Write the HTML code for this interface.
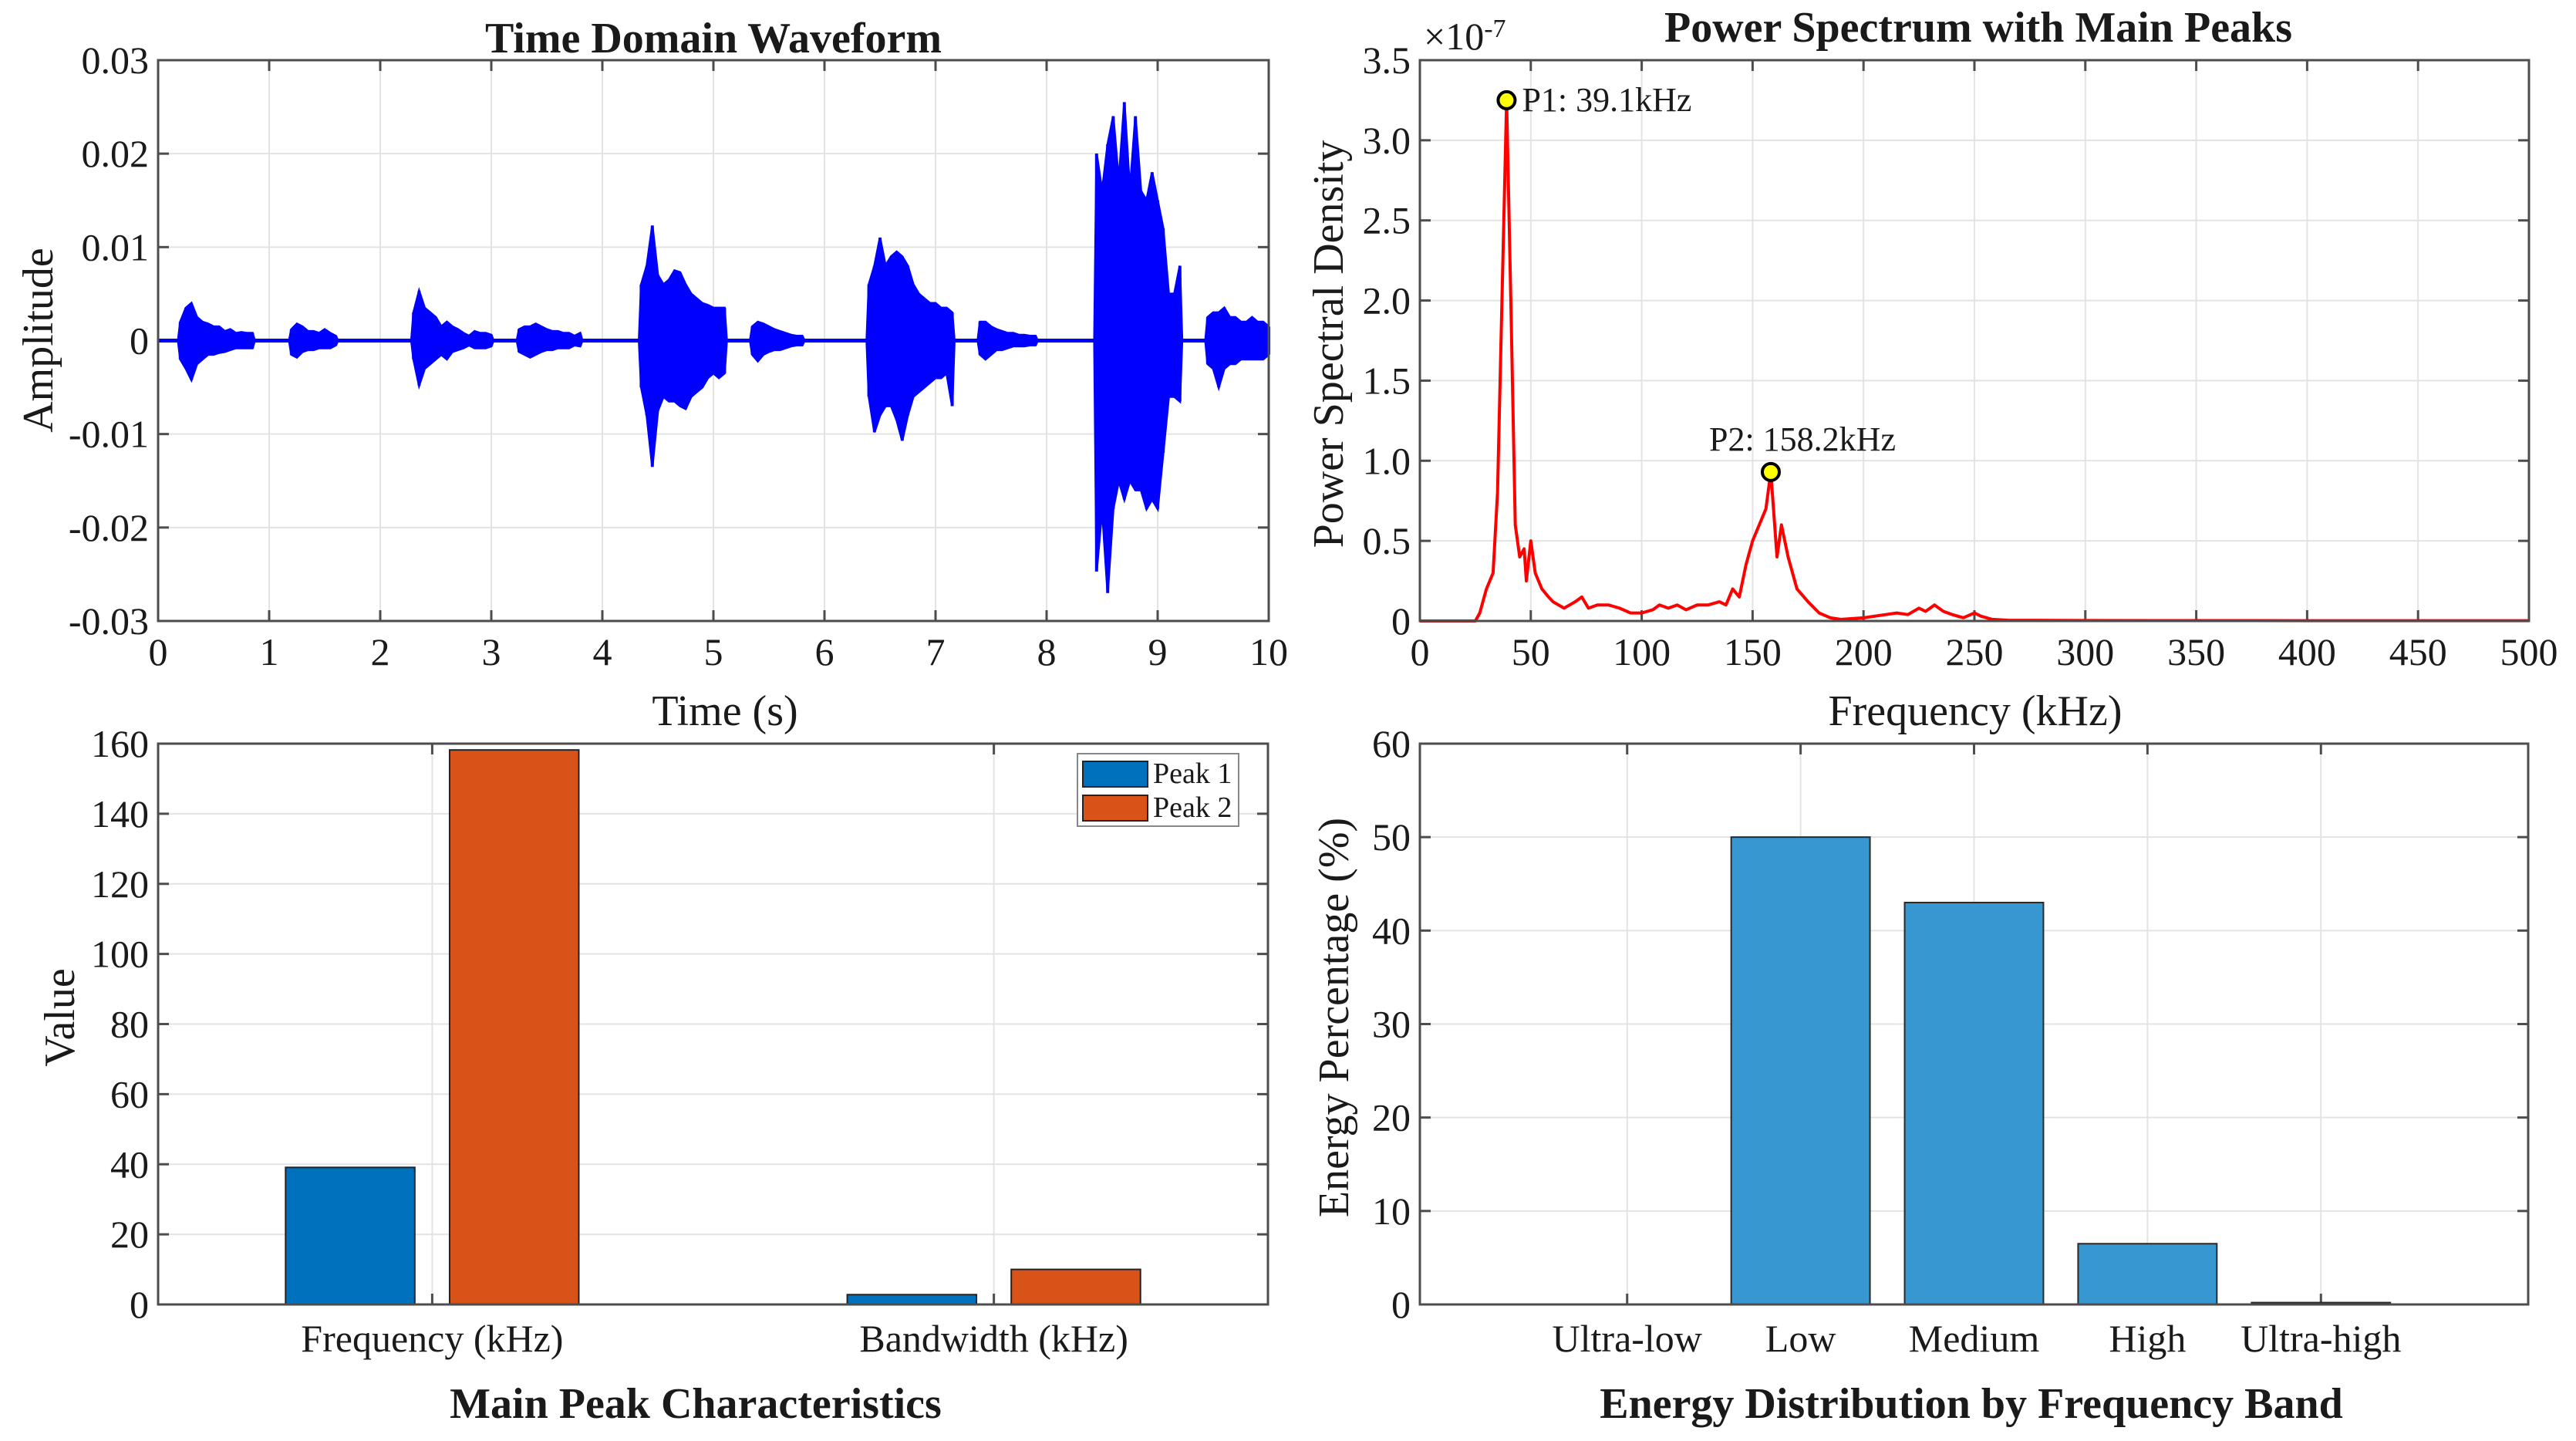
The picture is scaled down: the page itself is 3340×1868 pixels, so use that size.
<!DOCTYPE html>
<html><head><meta charset="utf-8"><style>
html,body{margin:0;padding:0;background:#fff;}
svg{display:block;font-family:"Liberation Serif","Times New Roman",serif;}
</style></head><body>
<svg id="fig" width="3340" height="1868" viewBox="0 0 3340 1868" xmlns="http://www.w3.org/2000/svg">
<rect x="0" y="0" width="3340" height="1868" fill="#fff"/>
<g id="root"></g>
</svg>
<script>
// ---------- Waveform data: bursts sampled every 0.05 s (amplitude units 1e-3) ----------
const burstStarts = [0.20, 1.20, 2.30, 3.25, 4.35, 5.35, 6.40, 7.40, 8.45, 9.45];
const burstUpper = [
  [2.0,3.5,4.0,2.5,2.0,1.8,1.5,1.5,1.0,1.2,0.8,0.9,0.8,0.8],
  [1.2,1.8,1.5,1.0,1.0,0.8,1.2,0.8,0.5],
  [3.0,5.3,3.5,3.0,2.5,1.5,2.0,1.5,1.2,0.8,0.5,1.0,0.8,0.8,0.6],
  [1.2,1.5,1.5,1.8,1.5,1.2,1.0,1.0,0.8,0.8,0.5,0.8],
  [6,8,12.3,7,6,6.5,7.5,7.3,6,5,4.5,4,3.8,3.5,3.5,3.5],
  [1.5,2.0,1.8,1.5,1.2,1.0,0.8,0.6,0.5,0.5],
  [6,8,11,8,9,9.5,9,8,6,5,4.5,4,4,3.5,3.5,3],
  [2.0,2.0,1.5,1.2,1.0,0.8,0.8,0.6,0.6,0.5,0.5],
  [20,16,21,24,17,25.5,16,24,16,15,18,15,12,5,5,8],
  [2.5,3,3,3.5,2.5,2.5,2,2,2.5,2,2,1.5]
];
const burstLower = [
  [-2.0,-3.0,-4.2,-2.5,-2.0,-1.5,-1.5,-1.3,-1.2,-1.0,-0.8,-0.8,-0.8,-0.8],
  [-1.5,-1.8,-1.2,-1.0,-1.0,-0.8,-0.8,-0.8,-0.5],
  [-2.0,-4.8,-3.0,-2.5,-2.0,-1.5,-2.0,-1.2,-1.0,-0.8,-0.5,-0.8,-0.8,-0.8,-0.6],
  [-1.2,-1.5,-1.8,-1.5,-1.2,-1.0,-1.0,-0.8,-0.8,-0.8,-0.5,-0.6],
  [-5,-8,-13.5,-7.5,-6,-6.5,-6.5,-7,-7.3,-6,-5.5,-5,-4,-3.5,-4,-3.5],
  [-1.5,-2.2,-1.5,-1.2,-1.0,-1.0,-0.8,-0.6,-0.5,-0.5],
  [-6,-9.8,-8,-7,-7,-8.5,-10.7,-8,-6,-5.5,-5,-4.5,-4,-4,-3.5,-7],
  [-1.5,-2.0,-1.5,-1.0,-1.0,-0.8,-0.6,-0.6,-0.6,-0.5,-0.5],
  [-24.7,-18,-27,-18,-15,-17,-15,-16,-16,-18,-17,-18,-12,-6,-6,-6.5],
  [-2.5,-3,-5,-3,-2.5,-2.5,-2,-2,-2,-2,-2,-1.5]
];
const sampleStep = 0.05;
const waveXTicks = [0,1,2,3,4,5,6,7,8,9,10];
const waveYTicks = [-0.03,-0.02,-0.01,0,0.01,0.02,0.03];
const waveYLabels = ["-0.03","-0.02","-0.01","0","0.01","0.02","0.03"];

// ---------- Power spectrum data (units 1e-7) ----------
const psdFreq = [0,10,20,25,27,30,33,35,37,39.1,41,43,45,47,48,50,52,55,58,60,65,70,73,76,80,85,90,95,100,105,108,112,116,120,125,130,135,138,141,144,147,150,153,156,158.2,161,163,166,170,175,180,185,190,200,210,215,220,225,228,232,236,240,245,250,253,258,265,300,400,500];
const psdValue = [0,0,0,0,0.05,0.2,0.3,0.8,2.0,3.25,2.0,0.6,0.4,0.45,0.25,0.5,0.3,0.2,0.15,0.12,0.08,0.12,0.15,0.08,0.1,0.1,0.08,0.05,0.05,0.07,0.1,0.08,0.1,0.07,0.1,0.1,0.12,0.1,0.2,0.15,0.35,0.5,0.6,0.7,0.93,0.4,0.6,0.4,0.2,0.12,0.05,0.02,0.01,0.02,0.04,0.05,0.04,0.08,0.06,0.1,0.06,0.04,0.02,0.05,0.03,0.01,0.005,0.003,0.002,0.002];
const psdXTicks = [0,50,100,150,200,250,300,350,400,450,500];
const psdYTicks = [0,0.5,1.0,1.5,2.0,2.5,3.0,3.5];
const psdYLabels = ["0","0.5","1.0","1.5","2.0","2.5","3.0","3.5"];
const peakFreqs = [39.1,158.2];
const peakValues = [3.25,0.93];
const peakLabels = ["P1: 39.1kHz","P2: 158.2kHz"];

// ---------- Main peak characteristics ----------
const peakCategories = ["Frequency (kHz)","Bandwidth (kHz)"];
const peak1Values = [39.1,2.8];
const peak2Values = [158.2,10.0];
const peakSeriesNames = ["Peak 1","Peak 2"];
const peakYTicks = [0,20,40,60,80,100,120,140,160];

// ---------- Energy distribution ----------
const bandNames = ["Ultra-low","Low","Medium","High","Ultra-high"];
const bandEnergy = [0,50,43,6.5,0.2];
const energyYTicks = [0,10,20,30,40,50,60];

const NS = "http://www.w3.org/2000/svg";
const root = document.getElementById('root');
function mk(tag, attrs, parent, text){
  const e = document.createElementNS(NS, tag);
  for (const k in attrs) e.setAttribute(k, attrs[k]);
  if (text !== undefined) e.textContent = text;
  (parent || root).appendChild(e);
  return e;
}
function lin(d0,d1,r0,r1){ return v => r0 + (v-d0)/(d1-d0)*(r1-r0); }

const GRID = "#e3e3e3", AX = "#4d4d4d", TXT = "#1a1a1a";

function axesFrame(g, L, T, R, B){
  const f = mk('rect',{x:L,y:T,width:R-L,height:B-T,fill:'none',stroke:AX,'stroke-width':3},g);
  
  
}
function yTicks(g, ys, labels, L, R, tickLen){
  ys.forEach((y,i)=>{
    const gl = mk('line',{x1:L,x2:R,y1:y,y2:y,stroke:GRID,'stroke-width':2},g);
    
    
    mk('line',{x1:L,x2:L+tickLen,y1:y,y2:y,stroke:AX,'stroke-width':3},g);
    mk('line',{x1:R,x2:R-tickLen,y1:y,y2:y,stroke:AX,'stroke-width':3},g);
    const t = mk('text',{x:L-12,y:y+17,'text-anchor':'end','font-size':50,fill:TXT},g,labels[i]);
    
    
  });
}
function xTicks(g, xs, labels, T, B, tickLen, labelY, grid){
  xs.forEach((x,i)=>{
    if (grid){
      const gl = mk('line',{x1:x,x2:x,y1:T,y2:B,stroke:GRID,'stroke-width':2},g);
      
      
    }
    if (tickLen){
      mk('line',{x1:x,x2:x,y1:B,y2:B-tickLen,stroke:AX,'stroke-width':3},g);
      mk('line',{x1:x,x2:x,y1:T,y2:T+tickLen,stroke:AX,'stroke-width':3},g);
    }
    const t = mk('text',{x:x,y:labelY,'text-anchor':'middle','font-size':50,fill:TXT},g,labels[i]);
    
    
  });
}
function label(g, txt, x, y, opts, name){
  const a = Object.assign({x:x,y:y,'text-anchor':'middle','font-size':56,fill:TXT}, opts||{});
  const t = mk('text',a,g,txt);
  
  
  return t;
}

// ================= Chart 1: waveform =================
(function(){
  const L=205,R=1645,T=78,B=805;
  const g = mk('g',{});
  
  
  const sx = lin(0,10,L,R), sy = lin(-0.03,0.03,B,T);
  yTicks(g, waveYTicks.map(sy), waveYLabels, L, R, 14);
  xTicks(g, waveXTicks.map(sx), waveXTicks.map(String), T, B, 14, 862, true);
  // baseline
  const base = mk('line',{x1:L,x2:R,y1:sy(0),y2:sy(0),stroke:'#0000ff','stroke-width':5},g);
  
  
  burstStarts.forEach((t0,b)=>{
    const up = burstUpper[b], lo = burstLower[b];
    const pts = [];
    pts.push(sx(t0-0.02)+','+sy(0));
    up.forEach((v,i)=>pts.push(sx(t0+i*sampleStep)+','+sy(v*1e-3)));
    const tEnd = Math.min(10, t0+(up.length-1)*sampleStep+0.02);
    pts.push(sx(tEnd)+','+sy(0));
    for (let i=lo.length-1;i>=0;i--) pts.push(sx(t0+i*sampleStep)+','+sy(lo[i]*1e-3));
    const p = mk('polygon',{points:pts.join(' '),fill:'#0000ff',stroke:'#0000ff','stroke-width':3,'stroke-linejoin':'miter'},g);
    
    
    up.forEach((v,i)=>{
      const x = sx(t0+i*sampleStep);
      const s = mk('line',{x1:x,x2:x,y1:sy(v*1e-3),y2:sy(lo[i]*1e-3),stroke:'#0000ff','stroke-width':4},g);
      
      
    });
  });
  axesFrame(g,L,T,R,B);
  label(g,'Time Domain Waveform',(L+R)/2,68,{'font-weight':'bold'},'chart-title');
  label(g,'Time (s)',940,940,{},'x-axis-title');
  label(g,'Amplitude',0,0,{transform:'translate(68,441) rotate(-90)'},'y-axis-title');
})();

// ================= Chart 2: power spectrum =================
(function(){
  const L=1841,R=3279,T=78,B=805;
  const g = mk('g',{});
  
  
  const sx = lin(0,500,L,R), sy = lin(0,3.5,B,T);
  yTicks(g, psdYTicks.map(sy), psdYLabels, L, R, 14);
  xTicks(g, psdXTicks.map(sx), psdXTicks.map(String), T, B, 14, 862, true);
  const pts = psdFreq.map((f,i)=>sx(f)+','+sy(psdValue[i])).join(' ');
  const ln = mk('polyline',{points:pts,fill:'none',stroke:'#ff0000','stroke-width':4,'stroke-linejoin':'round'},g);
  
  
  peakFreqs.forEach((f,i)=>{
    const cx=sx(f), cy=sy(peakValues[i]);
    const c = mk('circle',{cx:cx,cy:cy,r:11,fill:'#ffff00',stroke:'#000','stroke-width':4},g);
    
    
    let t;
    if (i===0) t = mk('text',{x:cx+20,y:cy+14,'font-size':44,fill:TXT},g,peakLabels[i]);
    else t = mk('text',{x:cx-80,y:cy-28,'font-size':44,fill:TXT},g,peakLabels[i]);
    
    
  });
  axesFrame(g,L,T,R,B);
  const m = mk('text',{x:1846,y:64,'font-size':50,fill:TXT},g);
  
  
  m.textContent = '\u00d710';
  mk('tspan',{dy:-16,'font-size':34},m,'-7');
  label(g,'Power Spectrum with Main Peaks',2565,54,{'font-weight':'bold'},'chart-title');
  label(g,'Frequency (kHz)',2561,940,{},'x-axis-title');
  label(g,'Power Spectral Density',0,0,{transform:'translate(1741,446) rotate(-90)'},'y-axis-title');
})();

// ================= Chart 3: main peak characteristics =================
(function(){
  const L=205,R=1644,T=964,B=1691;
  const g = mk('g',{});
  
  
  const sy = lin(0,160,B,T);
  const sx = lin(0.512,2.488,L,R);
  yTicks(g, peakYTicks.map(sy), peakYTicks.map(String), L, R, 14);
  xTicks(g, peakCategories.map((c,i)=>sx(i+1)), peakCategories, T, B, 14, 1752, true);
  const unit = (R-L)/1.976;
  const bw = 0.23*unit;
  const off = 0.146*unit;
  [peak1Values,peak2Values].forEach((vals,s)=>{
    vals.forEach((v,i)=>{
      const cx = sx(i+1) + (s===0?-off:off);
      const r = mk('rect',{x:cx-bw/2,y:sy(v),width:bw,height:B-sy(v),fill:s===0?'#0072bd':'#d95319',stroke:'#222','stroke-width':2},g);
      
      
    });
  });
  axesFrame(g,L,T,R,B);
  const lg = mk('g',{},g);
  
  
  mk('rect',{x:1397,y:977,width:209,height:94,fill:'#fff',stroke:'#888','stroke-width':2},lg);
  peakSeriesNames.forEach((n,i)=>{
    const y = 987 + i*44;
    const p = mk('rect',{x:1404,y:y,width:84,height:33,fill:i===0?'#0072bd':'#d95319',stroke:'#222','stroke-width':2},lg);
    
    
    const t = mk('text',{x:1495,y:y+28,'font-size':38,fill:TXT},lg,n);
    
    
  });
  label(g,'Main Peak Characteristics',902,1838,{'font-weight':'bold'},'chart-title');
  label(g,'Value',0,0,{transform:'translate(96,1319) rotate(-90)'},'y-axis-title');
})();

// ================= Chart 4: energy distribution =================
(function(){
  const L=1841,R=3278,T=964,B=1691;
  const g = mk('g',{});
  
  
  const sy = lin(0,60,B,T);
  const sx = lin(-0.195,6.195,L,R);
  yTicks(g, energyYTicks.map(sy), energyYTicks.map(String), L, R, 14);
  xTicks(g, bandNames.map((c,i)=>sx(i+1)), bandNames, T, B, 14, 1752, true);
  const bw = 0.8*(R-L)/6.39;
  bandEnergy.forEach((v,i)=>{
    const cx = sx(i+1);
    const r = mk('rect',{x:cx-bw/2,y:sy(v),width:bw,height:Math.max(0,B-sy(v)),fill:'#3797d0',stroke:'#2a2a2a','stroke-width':2},g);
    
    
  });
  axesFrame(g,L,T,R,B);
  label(g,'Energy Distribution by Frequency Band',2556,1838,{'font-weight':'bold'},'chart-title');
  label(g,'Energy Percentage (%)',0,0,{transform:'translate(1748,1319) rotate(-90)'},'y-axis-title');
})();
</script>
</body></html>
